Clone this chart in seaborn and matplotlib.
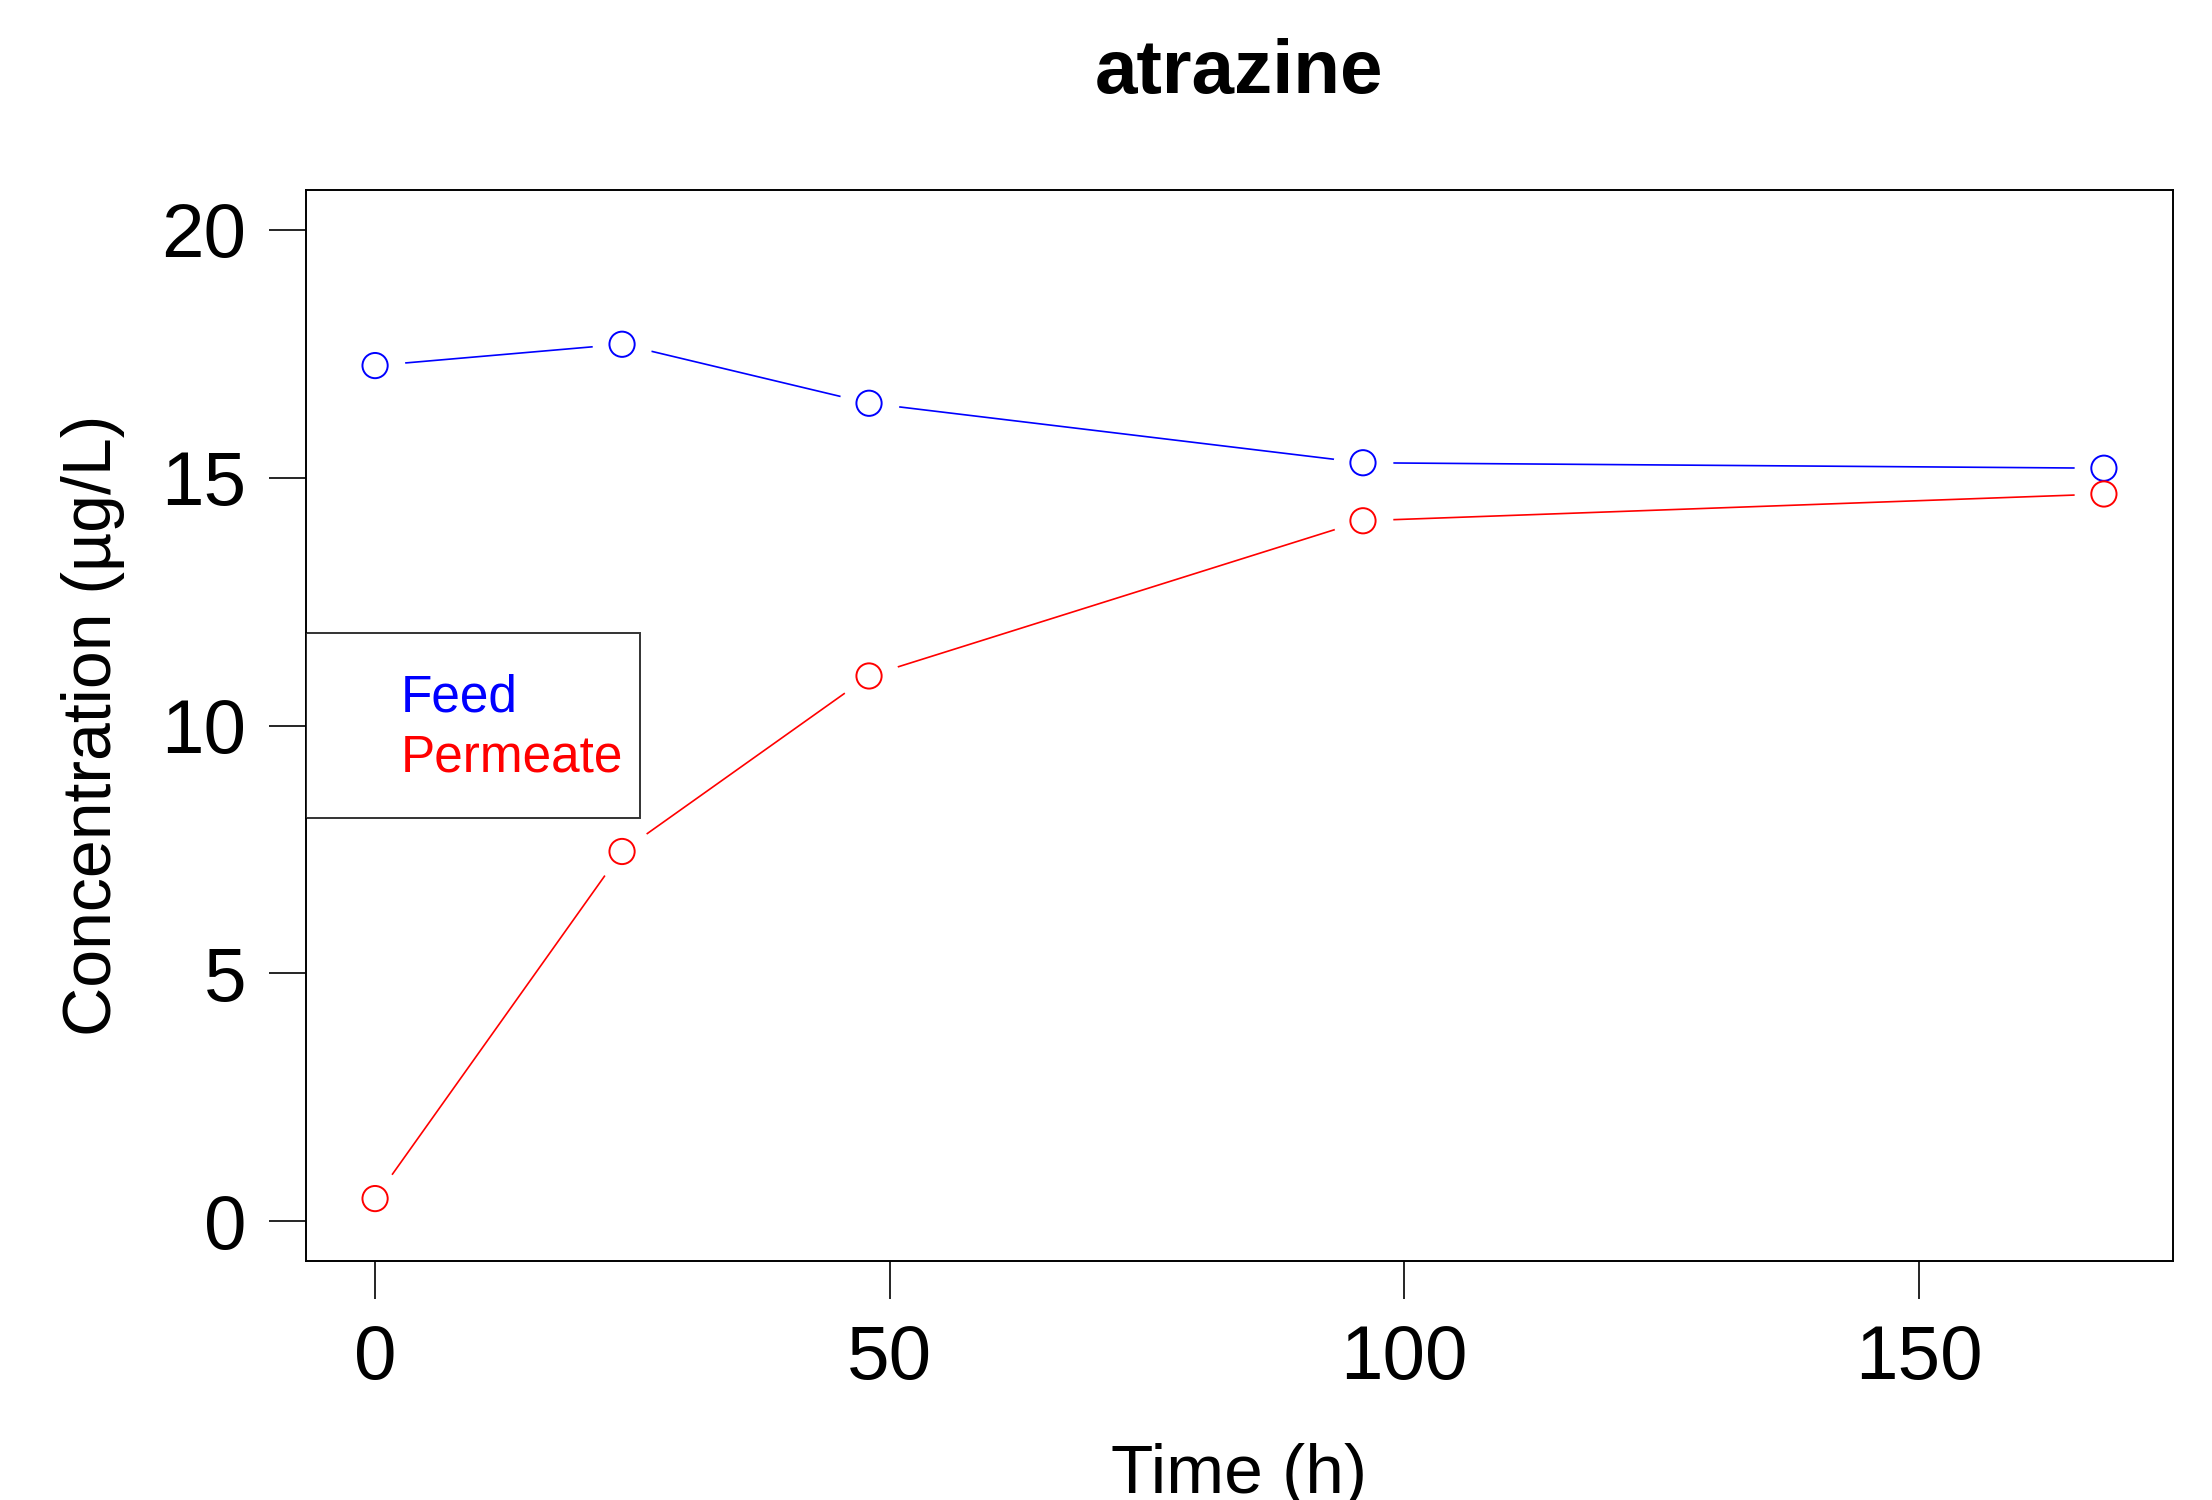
import matplotlib
matplotlib.use('Agg')
import matplotlib.pyplot as plt
import seaborn as sns
import pandas as pd

# Data.
time_h = [0, 24, 48, 96, 168]
feed = [17.26, 17.69, 16.50, 15.30, 15.19]
permeate = [0.46, 7.46, 11.00, 14.13, 14.67]
series_names = ['Feed', 'Permeate']
series_colors = ['blue', 'red']
x_ticks = [0, 50, 100, 150]
y_ticks = [0, 5, 10, 15, 20]

# Long format for seaborn.
df = pd.DataFrame({
    'time': time_h * 2,
    'conc': feed + permeate,
    'series': [series_names[0]] * len(time_h) + [series_names[1]] * len(time_h)})
palette = dict(zip(series_names, series_colors))

sns.set_style('white')
plt.rcParams['font.family'] = ['Liberation Sans', 'DejaVu Sans']
plt.rcParams['text.color'] = 'black'
plt.rcParams['axes.labelcolor'] = 'black'

fig = plt.figure(figsize=(22.12, 15.0), dpi=100)
ax = fig.add_axes([0.1383, 0.1593, 0.8441, 0.7140])

# Lines, then white disks to cut gaps (R type="b"), then open circles.
sns.lineplot(data=df, x='time', y='conc', hue='series', palette=palette,
    linewidth=1.2, legend=False, ax=ax, zorder=2)
sns.scatterplot(data=df, x='time', y='conc', color='white', s=1850,
    linewidth=0, legend=False, ax=ax, zorder=3)
for name in series_names:
    sub = df[df['series'] == name]
    sns.scatterplot(data=sub, x='time', y='conc', s=330, facecolor='none',
        edgecolor=palette[name], linewidth=1.4, legend=False, ax=ax,
        zorder=4)

ax.set_xlim(-6.72, 174.72)
ax.set_ylim(-0.8, 20.8)
ax.set_xticks(x_ticks)
ax.set_yticks(y_ticks)
ax.tick_params(axis='both', direction='out', length=27, width=1.2,
    labelsize=55, color='black', labelcolor='black')
ax.tick_params(axis='x', pad=18)
ax.tick_params(axis='y', pad=16)
ax.yaxis.set_ticks_position('left')
ax.xaxis.set_ticks_position('bottom')
for spine in ax.spines.values():
    spine.set_visible(True)
    spine.set_color('black')
    spine.set_linewidth(1.4)

ax.set_xlabel('Time (h)', fontsize=50, color='black')
ax.set_ylabel('Concentration (µg/L)', fontsize=49, color='black')
ax.xaxis.set_label_coords(0.5, -0.17)
ax.yaxis.set_label_coords(-0.097, 0.5)
ax.set_title('atrazine', fontsize=55, fontweight='bold', pad=70,
    color='black')

# Legend: coloured text only, inside a plain box at the left edge.
handles = [plt.Line2D([], [], color='none') for _ in series_names]
leg = ax.legend(handles, series_names, loc='center left',
    bbox_to_anchor=(0, 0.5), borderaxespad=0, fontsize=37,
    frameon=True, fancybox=False, handlelength=1.12, handletextpad=0.4,
    handleheight=2.32, borderpad=0.33, labelspacing=-0.57)
leg.get_frame().set_edgecolor('black')
leg.get_frame().set_linewidth(1.4)
for text, color in zip(leg.get_texts(), series_colors):
    text.set_color(color)

fig.savefig('out.png', dpi=100)
